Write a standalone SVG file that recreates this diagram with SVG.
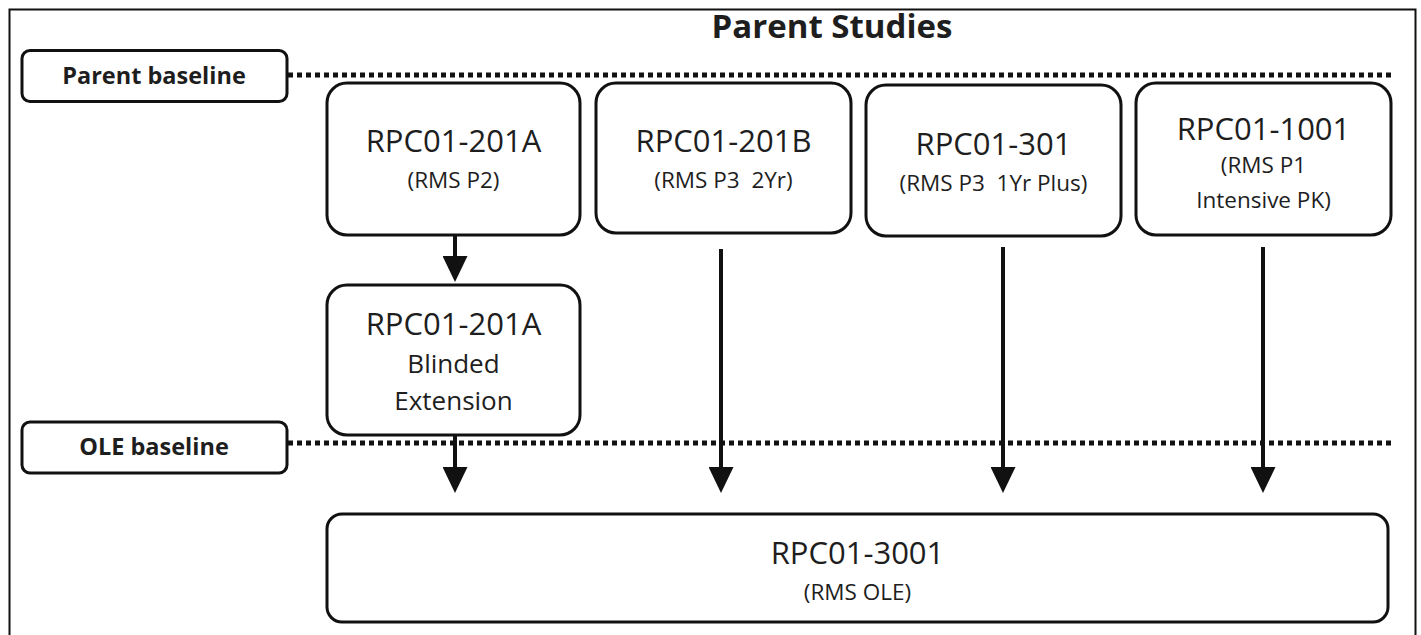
<svg xmlns="http://www.w3.org/2000/svg" width="1421" height="635" viewBox="0 0 1421 635">
  <style>
    .box { fill: #ffffff; stroke: #111111; stroke-width: 3; }
    .tag { fill: #ffffff; stroke: #111111; stroke-width: 3; }
    .dots { fill: none; stroke: #111111; stroke-width: 5; stroke-dasharray: 5 4; }
    .frame { fill: none; stroke: #111111; stroke-width: 2; }
    .shaft { fill: none; stroke: #111111; stroke-width: 4; }
    .head { fill: #111111; stroke: none; }
    text { font-family: "Open Sans", "Liberation Sans", sans-serif; fill: #1e1e1e; text-anchor: middle; white-space: pre; }
    .t1 { font-size: 31px; }
    .t2 { font-size: 22.5px; }
    .t3 { font-size: 26px; }
    .bold { font-weight: bold; }
  </style>
  <defs>
    <!-- triangular head; its tip sits 14px beyond the end of the shaft -->
    <marker id="arrowhead" viewBox="0 0 26 25" refX="12" refY="12.5" markerWidth="26" markerHeight="25" markerUnits="userSpaceOnUse" orient="auto">
      <path d="M0,0 L26,12.5 L0,25 Z" class="head"/>
    </marker>
  </defs>

  <rect width="1421" height="635" fill="#ffffff"/>
  <!-- outer frame -->
  <path class="frame" d="M9.5,640 V9.5 H1415.5 V640"/>

  <!-- heading -->
  <text x="832" y="38" class="bold" style="font-size:33px">Parent Studies</text>

  <!-- baseline markers -->
  <g id="parent-baseline">
    <rect class="tag" x="22" y="50.5" width="265" height="51" rx="8"/>
    <text x="154" y="84" class="bold" style="font-size:23.5px">Parent baseline</text>
  </g>
  <g id="ole-baseline">
    <rect class="tag" x="22" y="422" width="265" height="51" rx="8"/>
    <text x="154" y="455" class="bold" style="font-size:23.5px">OLE baseline</text>
  </g>
  <g id="baseline-lines">
    <line class="dots" x1="288" y1="75" x2="1395" y2="75"/>
    <line class="dots" x1="288" y1="443" x2="1395" y2="443"/>
  </g>

  <!-- parent studies -->
  <g id="n-201a">
    <rect class="box" x="327" y="83" width="253" height="152" rx="20"/>
    <text x="453.5" y="152" class="t1">RPC01-201A</text>
    <text x="453.5" y="188" class="t2">(RMS P2)</text>
  </g>
  <g id="n-201b">
    <rect class="box" x="596" y="83" width="255" height="150" rx="20"/>
    <text x="723.5" y="152" class="t1">RPC01-201B</text>
    <text x="723.5" y="188" class="t2">(RMS P3  2Yr)</text>
  </g>
  <g id="n-301">
    <rect class="box" x="866" y="85" width="255" height="151" rx="20"/>
    <text x="993.5" y="155" class="t1">RPC01-301</text>
    <text x="993.5" y="191" class="t2">(RMS P3  1Yr Plus)</text>
  </g>
  <g id="n-1001">
    <rect class="box" x="1136" y="83" width="255" height="152" rx="20"/>
    <text x="1263.5" y="140" class="t1">RPC01-1001</text>
    <text x="1263.5" y="173" class="t2">(RMS P1</text>
    <text x="1263.5" y="208" class="t2">Intensive PK)</text>
  </g>
  <g id="n-201a-ext">
    <rect class="box" x="327" y="285" width="253" height="150" rx="20"/>
    <text x="453.5" y="335" class="t1">RPC01-201A</text>
    <text x="453.5" y="373" class="t3">Blinded</text>
    <text x="453.5" y="410" class="t3">Extension</text>
  </g>

  <!-- open-label extension -->
  <g id="n-3001">
    <rect class="box" x="327" y="514" width="1061" height="108" rx="15"/>
    <text x="857.5" y="564" class="t1">RPC01-3001</text>
    <text x="857.5" y="600" class="t2">(RMS OLE)</text>
  </g>

  <!-- connectors -->
  <g id="connectors">
    <line class="shaft" x1="455" y1="236" x2="455" y2="268" marker-end="url(#arrowhead)"/>
    <line class="shaft" x1="455" y1="436" x2="455" y2="479" marker-end="url(#arrowhead)"/>
    <line class="shaft" x1="721" y1="249" x2="721" y2="479" marker-end="url(#arrowhead)"/>
    <line class="shaft" x1="1003" y1="247" x2="1003" y2="479" marker-end="url(#arrowhead)"/>
    <line class="shaft" x1="1263" y1="247" x2="1263" y2="479" marker-end="url(#arrowhead)"/>
  </g>
</svg>
